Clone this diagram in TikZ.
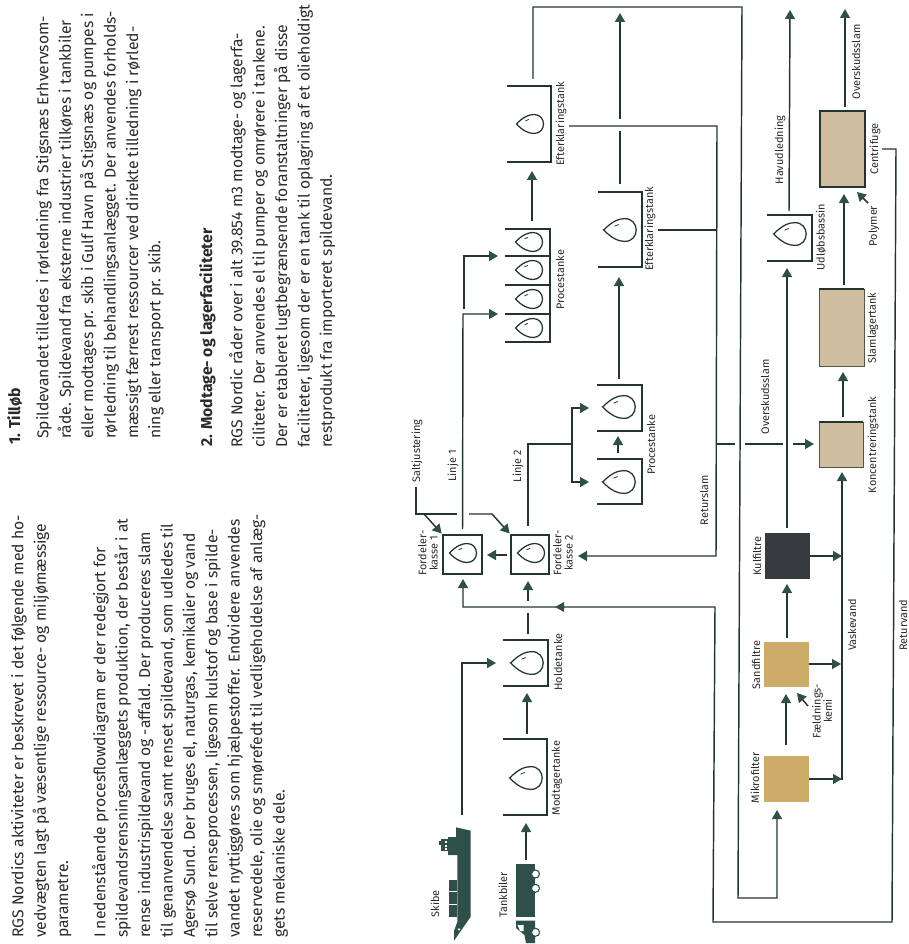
\documentclass[tikz,border=0pt]{standalone}
\usepackage{fontspec}
\setmainfont{Fira Sans}
\usetikzlibrary{arrows.meta}
\definecolor{lc}{HTML}{24352F}
\definecolor{hd}{HTML}{2F5048}
\definecolor{tan}{HTML}{CFBE9F}
\definecolor{gold}{HTML}{CDAB68}
\definecolor{coal}{HTML}{363B40}
\definecolor{txt}{HTML}{2A2A2A}
\tikzset{
  ln/.style={draw=lc,line width=1.45pt,line join=miter},
  arr/.style={ln,-{Triangle[length=9pt,width=10pt,fill=hd,color=hd]}},
  tk/.style args={#1x#2}{rectangle,inner sep=0pt,outer sep=0pt,minimum width=#1pt,minimum height=#2pt},
  fb/.style={draw=lc,line width=1.45pt},
  lab/.style={rotate=90,inner sep=0pt,align=center,text=txt,font=\fontsize{10.9}{11.2}\selectfont},
  para/.style={rotate=90,anchor=north west,inner sep=0pt,align=left,text=txt,font=\fontsize{15.7}{22.4}\selectfont},
  pics/drop/.style={code={
    \draw[draw=lc,line width=1.25pt,fill=white] (-13.5,0) .. controls (-7,-7) and (-1,-9.5) .. (4,-9.5)
      .. controls (10,-9.5) and (13.5,-5) .. (13.5,0) .. controls (13.5,5) and (10,9.5) .. (4,9.5)
      .. controls (-1,9.5) and (-7,7) .. cycle;
    \draw[draw=lc,line width=.8pt] (-4.5,-3.2) -- (-1,-4.6);
  }}
}
\begin{document}
\begin{tikzpicture}[x=1pt,y=-1pt]
\useasboundingbox (0,0) rectangle (908,944);
% --- text
\node[para,font=\bfseries\fontsize{15.8}{18}\selectfont] (h1) at (7,445) {1. Tilløb};
\node[para] (b1) at (36,439) {Spildevandet tilledes i rørledning fra Stigsnæs Erhvervsom-\\
råde. Spildevand fra eksterne industrier tilkøres i tankbiler\\
eller modtages pr. skib i Gulf Havn på Stigsnæs og pumpes i\\
rørledning til behandlingsanlægget. Der anvendes forholds-\\
mæssigt færrest ressourcer ved direkte tilledning i rørled-\\
ning eller transport pr. skib.};
\node[para,font=\bfseries\fontsize{15.8}{18}\selectfont] (h2) at (199,447) {2. Modtage- og lagerfaciliteter};
\node[para] (b2) at (229,448) {RGS Nordic råder over i alt 39.854 m3 modtage- og lagerfa-\\
ciliteter. Der anvendes el til pumper og omrørere i tankene.\\
Der er etableret lugtbegrænsende foranstaltninger på disse\\
faciliteter, ligesom der er en tank til oplagring af et olieholdigt\\
restprodukt fra importeret spildevand.};
\node[para] (b3) at (11,938) {RGS Nordics aktiviteter er beskrevet i det følgende med ho-\\
vedvægten lagt på væsentlige ressource- og miljømæssige\\
parametre.};
\node[para] (b4) at (92,938) {I nedenstående procesflowdiagram er der redegjort for\\
spildevandsrensningsanlæggets produktion, der består i at\\
rense industrispildevand og -affald. Der produceres slam\\
til genanvendelse samt renset spildevand, som udledes til\\
Agersø Sund. Der bruges el, naturgas, kemikalier og vand\\
til selve renseprocessen, ligesom kulstof og base i spilde-\\
vandet nyttiggøres som hjælpestoffer. Endvidere anvendes\\
reservedele, olie og smørefedt til vedligeholdelse af anlæg-\\
gets mekaniske dele.};
% --- open tanks
\node[tk=44x76] (ef1) at (529,124) {};
\node[tk=45x113] (proc) at (527.5,285.5) {};
\node[tk=44x75] (ef2) at (620,229.5) {};
\node[tk=45x46] (pra) at (619.5,408) {};
\node[tk=45x45] (prb) at (619.5,481.5) {};
\node[tk=45x46] (hold) at (525.5,663) {};
\node[tk=44x76] (mod) at (525,777) {};
\node[tk=45x46] (udl) at (789.5,238) {};
\foreach \n in {ef1,proc,ef2,pra,prb,hold,mod,udl}
  \draw[fb] (\n.north west) -- (\n.north east) -- (\n.south east) -- (\n.south west);
\foreach \yy in {256,285,314}
  \draw[fb] (505,\yy) -- (550,\yy);
% closed kasser
\node[tk=39x39,fb] (fk1) at (462.5,554.5) {};
\node[tk=38x39,fb] (fk2) at (530,554.5) {};
% filled boxes
\node[tk=45x76,fill=tan,draw=lc,line width=1.2pt] (cen) at (842.5,149) {};
\node[tk=45x77,fill=tan,draw=lc!75!tan,line width=.7pt] (slam) at (841.5,327.5) {};
\node[tk=44x45,fill=tan,draw=lc!75!tan,line width=.7pt] (kon) at (841,444.5) {};
\draw[lc,line width=1.2pt] (slam.north west) -- (slam.north east);
\draw[lc,line width=1.2pt] (kon.north west) -- (kon.north east);
\node[tk=45x46,fill=coal] (kul) at (787.5,556) {};
\node[tk=45x45,fill=gold] (sand) at (786.5,664.5) {};
\node[tk=45x46,fill=gold] (mik) at (786.5,779) {};
% drops
\pic at (530,124) {drop};
\foreach \yy in {242,270,299,328} \pic at (529,\yy) {drop};
\pic[scale=1.2] at (620,230) {drop};
\pic[scale=1.2] at (619,407) {drop};
\pic[scale=1.2] at (619,482) {drop};
\pic[scale=1.2] at (527,663) {drop};
\pic[scale=1.2] at (526,778) {drop};
\pic[scale=1.2] at (790,234) {drop};
\pic at (463,553) {drop};
\pic at (531,553) {drop};
% --- connectors
\coordinate (j1) at (533,79); \coordinate (j2) at (533,7); \coordinate (j3) at (742,7);
\coordinate (j4) at (738,898); \coordinate (j5) at (777,898);
\draw[arr,shorten >=8pt] (j1) -- (j2) -- (j3) -- (j4) -- (j5) -- (j5 |- mik.south);
% ship to holdetanke
\coordinate (sh) at (462,815); \coordinate (shc) at (462,663); \coordinate (hw) at (496,663);
\draw[arr] (sh) -- (shc) -- (hw);
\coordinate (tb) at (526,860);
\draw[arr,shorten >=8pt] (tb) -- (tb |- mod.south);
\coordinate (mo) at (527,734);
\draw[arr,shorten >=7pt] (mo) -- (mo |- hold.south);
% holdetanke to fordeler 2 (gap at y=607)
\coordinate (h1a) at (528,634); \coordinate (h1b) at (528,613);
\coordinate (h2a) at (528,601);
\draw[ln] (h1a) -- (h1b);
\draw[arr,shorten >=7pt] (h2a) -- (h2a |- fk2.south);
% fordeler 2 to 1
\draw[arr,shorten >=5pt] ([xshift=-4pt]fk2.west |- 0,555) -- (fk1.east |- 0,555);
% returvand
\coordinate (rv0) at (882,149); \coordinate (rv1) at (896,149); \coordinate (rv2) at (892,922);
\coordinate (rv3) at (713,922); \coordinate (rv4) at (715,607); \coordinate (rv5) at (463,607);
\draw[arr,shorten >=5pt] (rv0) -- (rv1) -- (rv2) -- (rv3) -- (rv4) -- (rv5) -- (rv5 |- fk1.south);
\fill[hd] (555,607) -- (564,602) -- (564,612) -- cycle;
% returslam
\coordinate (rs0) at (569,126); \coordinate (rs1) at (717,126); \coordinate (rs2) at (716,556);
\coordinate (rs3) at (578,556);
\draw[arr] (rs0) -- (rs1) -- (rs2) -- (rs3);
\draw[ln] (ef2.east |- 0,230) ++(16,0) -- (717,230);
% overskudsslam
\coordinate (os1) at (717,444); \coordinate (os2) at (735,444);
\coordinate (os3) at (745,444); \coordinate (os4) at (783,444); \coordinate (os5) at (793,444);
\draw[ln] (os1) -- (os2);
\draw[ln] (os3) -- (os4);
\draw[arr,shorten >=5pt] (os5) -- (os5 -| kon.west);
% efterklaring 2 up
\coordinate (e2a) at (620,184); \coordinate (e2b) at (620,131); \coordinate (e2c) at (620,119); \coordinate (e2d) at (620,13);
\draw[ln] (e2a) -- (e2b);
\draw[arr] (e2c) -- (e2d);
\coordinate (pa) at (619,379);
\draw[arr,shorten >=10pt] (pa) -- (pa |- ef2.south);
\coordinate (pe) at (532,221);
\draw[arr,shorten >=9pt] (pe) -- (pe |- ef1.south);
% linje 1
\coordinate (l1) at (463,314); \coordinate (l1e) at (498,314);
\coordinate (l1b) at (464,309); \coordinate (l1c) at (464,256); \coordinate (l1d) at (498,256);
\draw[arr,shorten <=6pt] (fk1.north) -- (l1) -- (l1e);
\draw[arr] (l1b) -- (l1c) -- (l1d);
% linje 2
\coordinate (l2) at (528,444); \coordinate (l2j) at (572,444);
\coordinate (l2t) at (572,408); \coordinate (l2b) at (572,482);
\draw[ln,shorten <=9pt] (fk2.north -| l2) -- (l2) -- (l2j);
\draw[arr] (l2j) -- (l2t) -- (589,408);
\draw[arr] (l2j) -- (l2b) -- (589,482);
\coordinate (pp1) at (618,453); \coordinate (pp2) at (618,436);
\draw[arr] (pp1) -- (pp2);
% saltjustering
\coordinate (s0) at (416,487); \coordinate (s1) at (416,514); \coordinate (s2) at (457,514);
\coordinate (s3) at (469,514); \coordinate (s4) at (492,514); \coordinate (s5) at (424,514);
\draw[ln] (s0) -- (s1) -- (s2);
\draw[arr,shorten >=2pt] (s3) -- (s4) -- (fk2.north west);
\draw[arr,shorten >=2pt] (s5) -- (fk1.north west);
% water line
\coordinate (hv) at (789,211);
\draw[arr] (hv) -- (790,10);
\draw[arr,shorten <=5pt,shorten >=7pt] (787,533) -- (787,261);
\draw[arr,shorten <=4pt,shorten >=5pt] (787,642) -- (787,579);
\draw[arr,shorten <=11pt,shorten >=7pt] (786,756) -- (786,687);
% faeldning, polymer
\coordinate (fa) at (808,706); \coordinate (fb1) at (797,693);
\draw[arr] (fa) -- (fb1);
\coordinate (po) at (868,203); \coordinate (pb) at (857,192);
\draw[arr] (po) -- (pb);
% vaskevand
\coordinate (vk) at (842,780);
\draw[arr,shorten >=5pt] (vk) -- (842,467);
\draw[arr] (kul.east |- 0,556) -- (842,556);
\draw[arr] (sand.east |- 0,664) -- (841,664);
\draw[arr] (mik.east |- 0,779) -- (842,779);
% sludge line
\draw[arr,shorten <=5pt,shorten >=6pt] (843,422) -- (843,366);
\draw[arr,shorten <=4pt,shorten >=7pt] (844,289) -- (844,187);
\draw[arr,shorten <=4pt] (845,111) -- (845,9);
% --- ship
\fill[hd] (456,827.3) -- (470.7,830.7) -- (470.7,916.7) -- (454,940.7) -- (454,931) -- (457.3,922) -- (457.3,855) -- (448,855) -- (448,837) -- (456,837) -- cycle;
\fill[hd] (441,839) rectangle (448,851);
\fill[hd] (439,841) rectangle (441,845);
\foreach \yy in {840.5,844.5,848}
  \fill[white] (444.5,\yy) rectangle (447,\yy+2);
\fill[hd] (449,880) rectangle (456.7,916.7);
\draw[white,line width=.5pt] (449,891.7) -- (457.3,891.7) (449,904.3) -- (457.3,904.3);
\fill[white] (459,929.3) circle (1.3);
% --- truck
\fill[hd] (516,864) rectangle (535,916.7);
\fill[hd] (516,920.7) -- (535,920.7) -- (535,943) -- (526,943) -- (524.5,935) -- (516,928) -- cycle;
\fill[white] (517.5,925) -- (523.5,925) -- (523.5,931) -- (520,931) -- cycle;
\foreach \yy in {874,888.3,932.3}
  \draw[hd,line width=1.1pt,fill=white] (535.5,\yy) circle (4);
% --- labels
\node[lab] (t1) at (561,124) {Efterklaringstank};
\node[lab] (t2) at (560,280) {Procestanke};
\node[lab] (t3) at (650,229) {Efterklaringstank};
\node[lab] (t4) at (651,445) {Procestanke};
\node[lab] (t5) at (704,500) {Returslam};
\node[lab] (t6) at (765,397) {Overskudsslam};
\node[lab] (t7) at (780,150) {Havudledning};
\node[lab] (t8) at (821,237) {Udløbsbassin};
\node[lab] (t9) at (856,62) {Overskudsslam};
\node[lab] (t10) at (875,149) {Centrifuge};
\node[lab] (t11) at (874,226) {Polymer};
\node[lab] (t12) at (873,328) {Slamlagertank};
\node[lab] (t13) at (873,445) {Koncentreringstank};
\node[lab] (t14) at (757,556) {Kulfiltre};
\node[lab] (t15) at (756,665) {Sandfiltre};
\node[lab] (t16) at (755,778) {Mikrofilter};
\node[lab] (t17) at (822,711) {Fældnings-\\kemi};
\node[lab] (t18) at (852,625) {Vaskevand};
\node[lab] (t19) at (903,625) {Returvand};
\node[lab] (t20) at (558,662) {Holdetanke};
\node[lab] (t21) at (557,778) {Modtagertanke};
\node[lab] (t22) at (435,904) {Skibe};
\node[lab] (t23) at (503,895) {Tankbiler};
\node[lab] (t24) at (428,553) {Fordeler-\\kasse 1};
\node[lab] (t25) at (563,553) {Fordeler-\\kasse 2};
\node[lab] (t26) at (417,451) {Saltjustering};
\node[lab] (t27) at (453,466) {Linje 1};
\node[lab] (t28) at (518,466) {Linje 2};
\end{tikzpicture}
\end{document}
